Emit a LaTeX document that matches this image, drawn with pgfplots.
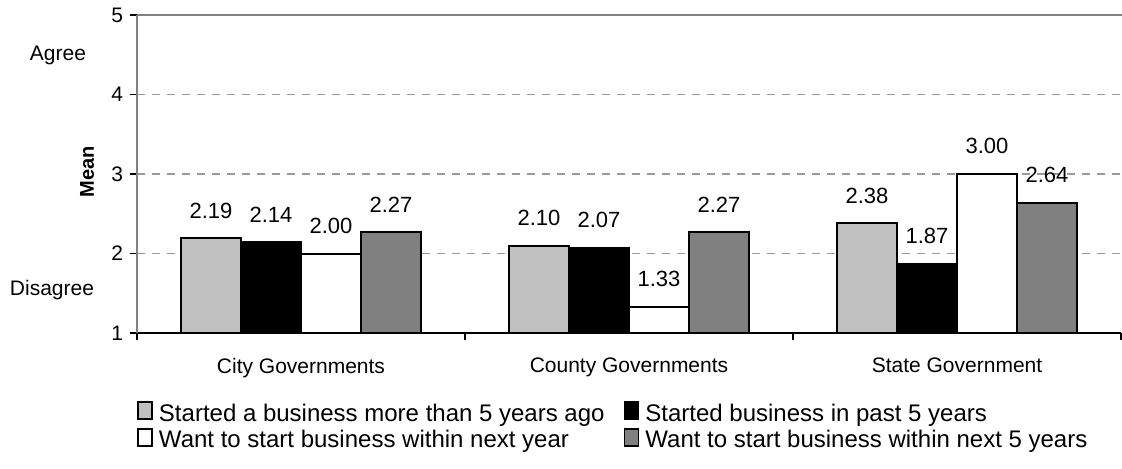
\documentclass[border=0pt]{standalone}
\usepackage{pgfplots}
\pgfplotsset{compat=1.18}
\usepackage{fontspec}
\setmainfont{Liberation Sans}

\definecolor{barLight}{RGB}{192,192,192}
\definecolor{barDark}{RGB}{128,128,128}
\definecolor{axisGray}{RGB}{128,128,128}

\pgfplotsset{/pgf/number format/assume math mode=true}

\begin{document}
\begin{tikzpicture}
\begin{axis}[
    scale only axis,
    width=492pt, height=159pt,
    xmin=-0.5, xmax=2.5,
    ymin=1, ymax=5,
    ybar=0pt,
    bar width=0.183,
    xtick={0,1,2},
    xticklabels={City Governments, County Governments, State Government},
    minor xtick={-0.5,0.5,1.5,2.5},
    ytick={1,2,3,4,5},
    axis x line*=bottom,
    axis y line*=left,
    axis line style={-},
    x axis line style={black, line width=0.8pt},
    y axis line style={axisGray, line width=0.8pt},
    tick align=outside,
    major tick length=3.5pt,
    minor tick length=3.5pt,
    major x tick style={draw=none},
    minor x tick style={black, line width=0.8pt},
    ytick style={black, line width=0.6pt},
    ymajorgrids,
    grid style={axisGray!80, dash pattern=on 4pt off 3.5pt, line width=0.6pt},
    tick label style={font=\fontsize{10.5}{12}\selectfont},
    xticklabel style={yshift=-5.5pt},
    nodes near coords={\pgfmathprintnumber[fixed,fixed zerofill,precision=2]{\pgfplotspointmeta}},
    nodes near coords style={font=\fontsize{11}{13}\selectfont, anchor=south, inner sep=0pt, yshift=9.5pt},
    legend columns=2,
    legend cell align=left,
    legend style={draw=none, fill=none, at={(0.483,-0.214)}, anchor=north,
        inner sep=0pt, font=\fontsize{12}{14}\selectfont, nodes={inner sep=0pt},
        /tikz/row sep=1.8pt,
        /tikz/every odd column/.append style={column sep=3pt},
        /tikz/every even column/.append style={column sep=9.5pt}},
    legend image code/.code={\draw[#1, line width=0.9pt] (0pt,-2.6pt) rectangle (7pt,5.9pt);},
]
\addplot[fill=barLight, draw=black, line width=1pt] coordinates {(0,2.19) (1,2.10) (2,2.38)};
\addplot[fill=black, draw=black, line width=1pt] coordinates {(0,2.14) (1,2.07) (2,1.87)};
\addplot[fill=white, draw=black, line width=1pt] coordinates {(0,2.00) (1,1.33) (2,3.00)};
\addplot[fill=barDark, draw=black, line width=1pt] coordinates {(0,2.27) (1,2.27) (2,2.64)};
\legend{Started a business more than 5 years ago, Started business in past 5 years,
        Want to start business within next year, Want to start business within next 5 years}
\end{axis}
% solid top frame line at 5
\draw[axisGray, line width=1pt] (0pt,159pt) -- (492.5pt,159pt);
\node[anchor=base, font=\fontsize{10.5}{12}\selectfont] at (-39.5pt,136.5pt) {Agree};
\node[anchor=base, font=\fontsize{10.5}{12}\selectfont] at (-42.5pt,19pt) {Disagree};
\node[rotate=90, font=\fontsize{10}{12}\selectfont\bfseries] at (-25pt,80.5pt) {Mean};
\pgfresetboundingbox
\path[use as bounding box] (-68.5pt,-67.5pt) rectangle (492.5pt,166.5pt);
\end{tikzpicture}
\end{document}
